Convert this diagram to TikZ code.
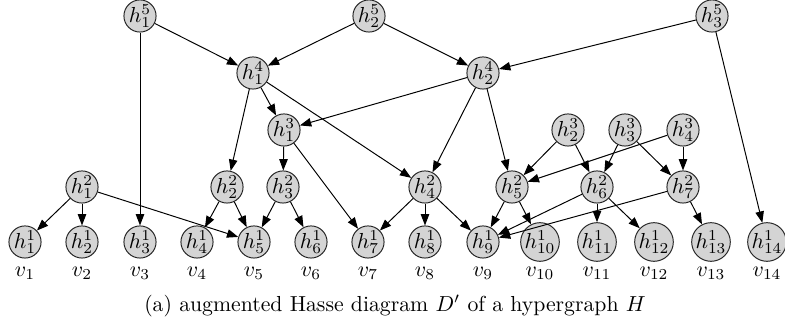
\documentclass[tikz,border=0pt]{standalone}
\usetikzlibrary{arrows.meta}
\begin{document}
\begin{tikzpicture}[x=0.46pt,y=-0.46pt,
  hn/.style={circle,draw=black!85,fill=black!17,line width=0.45pt,minimum size=13.6pt,inner sep=0pt},
  ar/.style={-{Triangle[length=5.2pt,width=3.9pt]},line width=0.45pt},
  vl/.style={inner sep=0pt}]
\useasboundingbox (0,0) rectangle (785,325);
% level 5
\node[hn] (h51) at (140,16) {$h^5_1$};
\node[hn] (h52) at (369,16) {$h^5_2$};
\node[hn] (h53) at (712,16) {$h^5_3$};
% level 4
\node[hn] (h41) at (253,73) {$h^4_1$};
\node[hn] (h42) at (483,73) {$h^4_2$};
% level 3
\node[hn] (h31) at (284,130) {$h^3_1$};
\node[hn] (h32) at (568,130) {$h^3_2$};
\node[hn] (h33) at (625,130) {$h^3_3$};
\node[hn] (h34) at (683,130) {$h^3_4$};
% level 2
\node[hn] (h21) at (82,187) {$h^2_1$};
\node[hn] (h22) at (227,187) {$h^2_2$};
\node[hn] (h23) at (283,187) {$h^2_3$};
\node[hn] (h24) at (425,187) {$h^2_4$};
\node[hn] (h25) at (512,187) {$h^2_5$};
\node[hn] (h26) at (597,187) {$h^2_6$};
\node[hn] (h27) at (683,187) {$h^2_7$};
% level 1
\foreach \i/\x in {1/25,2/82,3/140,4/197,5/254,6/311,7/368,8/425,9/483,10/540,11/597,12/654,13/711,14/767}{
  \node[hn] (h1\i) at (\x,242) {$h^1_{\i}$};
  \node[vl] (v\i) at (\x,273) {$v_{\i}$};
}
% edges
\draw[ar] (h51) -- (h41);
\draw[ar] (h51) -- (h13);
\draw[ar] (h52) -- (h41);
\draw[ar] (h52) -- (h42);
\draw[ar] (h53) -- (h42);
\draw[ar] (h53) -- (h114);
\draw[ar] (h41) -- (h22);
\draw[ar] (h41) -- (h31);
\draw[ar] (h41) -- (h24);
\draw[ar] (h42) -- (h31);
\draw[ar] (h42) -- (h24);
\draw[ar] (h42) -- (h25);
\draw[ar] (h31) -- (h23);
\draw[ar] (h31) -- (h17);
\draw[ar] (h32) -- (h25);
\draw[ar] (h32) -- (h26);
\draw[ar] (h33) -- (h26);
\draw[ar] (h33) -- (h27);
\draw[ar] (h34) -- (h25);
\draw[ar] (h34) -- (h27);
\draw[ar] (h21) -- (h11);
\draw[ar] (h21) -- (h12);
\draw[ar] (h21) -- (h15);
\draw[ar] (h22) -- (h14);
\draw[ar] (h22) -- (h15);
\draw[ar] (h23) -- (h15);
\draw[ar] (h23) -- (h16);
\draw[ar] (h24) -- (h17);
\draw[ar] (h24) -- (h18);
\draw[ar] (h24) -- (h19);
\draw[ar] (h25) -- (h19);
\draw[ar] (h25) -- (h110);
\draw[ar] (h26) -- (h19);
\draw[ar] (h26) -- (h111);
\draw[ar] (h26) -- (h112);
\draw[ar] (h27) -- (h19);
\draw[ar] (h27) -- (h113);
% caption
\node[inner sep=0pt] (cap) at (395,306) {(a) augmented Hasse diagram $D'$ of a hypergraph $H$};
\end{tikzpicture}
\end{document}
